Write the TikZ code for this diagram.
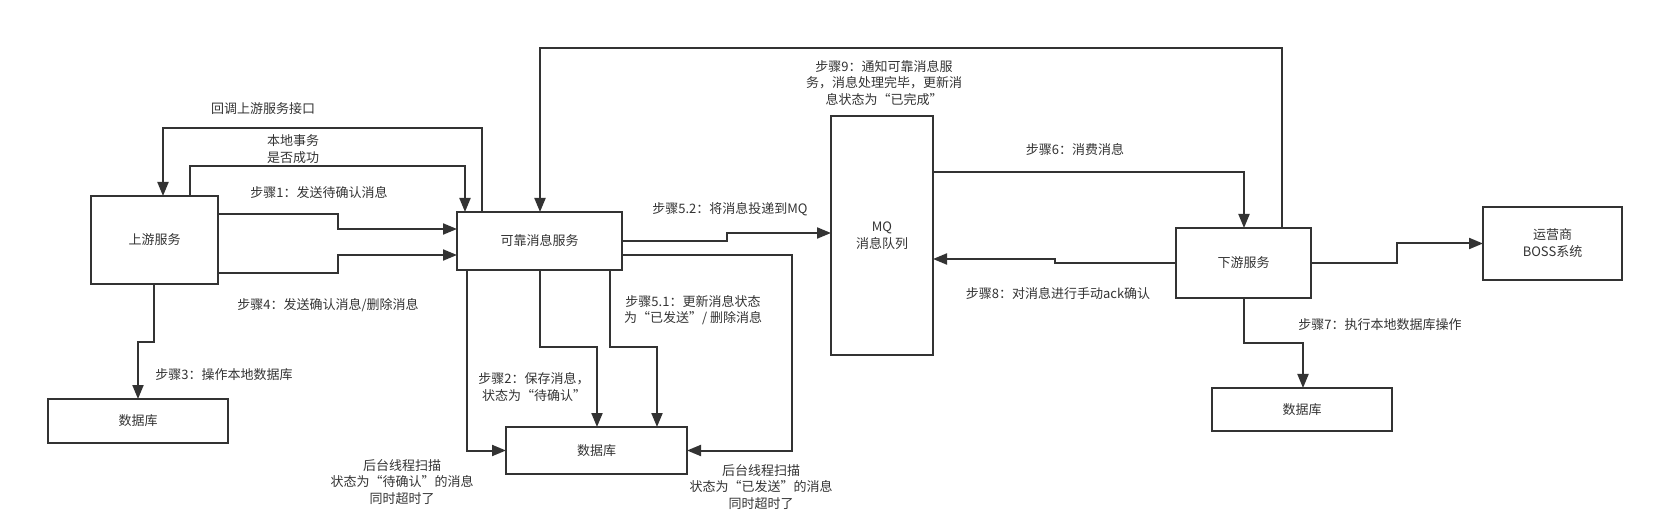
\documentclass[tikz,border=0pt]{standalone}
\usepackage{fontspec}
\setmainfont{Noto Sans CJK SC}
\usetikzlibrary{arrows.meta,calc}
\definecolor{lc}{HTML}{333333}
\begin{document}
\begin{tikzpicture}[x=1pt,y=-1pt,
  box/.style={draw=lc, line width=2pt, inner sep=0pt, outer sep=0pt, text=lc, align=center, font=\fontsize{13pt}{17pt}\selectfont},
  lbl/.style={text=lc, align=center, inner sep=0pt, font=\fontsize{13pt}{16.5pt}\selectfont},
  wire/.style={draw=lc, line width=2pt},
  arr/.style={draw=lc, line width=2pt, -{Triangle[length=14pt,width=11pt]}}]
\useasboundingbox (0,0) rectangle (1654,526);
% nodes
\node[box, minimum width=127pt, minimum height=88pt] (up) at (154.5,240) {上游服务};
\node[box, minimum width=165pt, minimum height=58pt] (rel) at (539.5,241) {可靠消息服务};
\node[box, minimum width=180pt, minimum height=44pt] (db1) at (138,421) {数据库};
\node[box, minimum width=181pt, minimum height=47pt] (db2) at (596.5,450.5) {数据库};
\node[box, minimum width=102pt, minimum height=239pt] (mq) at (882,235.5) {MQ\\消息队列};
\node[box, minimum width=135pt, minimum height=70pt] (down) at (1243.5,263) {下游服务};
\node[box, minimum width=139pt, minimum height=73pt] (boss) at (1552.5,243.5) {运营商\\BOSS系统};
\node[box, minimum width=180pt, minimum height=43pt] (db3) at (1302,409.5) {数据库};
% connectors
\draw[arr] ($(rel.north west)+(25,0)$) -- ++(0,-84) -| ($(up.north west)+(72,0)$);
\draw[arr] ($(up.north west)+(99,0)$) -- ++(0,-30) -| ($(rel.north west)+(8,0)$);
\draw[arr] ($(up.north east)+(0,18)$) -- ++(120,0) |- ($(rel.north west)+(0,17)$);
\draw[arr] ($(up.south east)+(0,-11)$) -- ++(120,0) |- ($(rel.north west)+(0,43)$);
\draw[arr] ($(up.south west)+(63,0)$) -- ++(0,58) -| (db1.north);
\draw[arr] ($(rel.south west)+(10,0)$) |- (db2.west);
\draw[arr] ($(rel.south west)+(83,0)$) -- ++(0,77) -| ($(db2.north west)+(91,0)$);
\draw[arr] ($(rel.south west)+(153,0)$) -- ++(0,77) -| ($(db2.north west)+(151,0)$);
\draw[arr] ($(rel.north east)+(0,43)$) -- ++(170,0) |- (db2.east);
\draw[arr] ($(rel.north east)+(0,29)$) -- ++(105,0) |- ($(mq.north west)+(0,117)$);
\draw[arr] ($(down.north west)+(106,0)$) -- ++(0,-180) -| ($(rel.north west)+(83,0)$);
\draw[arr] ($(mq.north east)+(0,56)$) -| ($(down.north west)+(68,0)$);
\draw[arr] ($(down.north west)+(0,35)$) -- ++(-121,0) |- ($(mq.north east)+(0,143)$);
\draw[arr] (down.east) -- ++(86,0) |- (boss.west);
\draw[arr] ($(down.south west)+(68,0)$) -- ++(0,45) -| ($(db3.north)+(1,0)$);
% labels
\node[lbl] (l1) at (263,109) {回调上游服务接口};
\node[lbl] (l2) at (293,149) {本地事务\\是否成功};
\node[lbl] (l3) at (319,193) {步骤1：发送待确认消息};
\node[lbl] (l4) at (328,305) {步骤4：发送确认消息/删除消息};
\node[lbl] (l5) at (224,375) {步骤3：操作本地数据库};
\node[lbl] (l6) at (534,387) {步骤2：保存消息，\\状态为“待确认”};
\node[lbl] (l7) at (693,310) {步骤5.1：更新消息状态\\为“已发送”/ 删除消息};
\node[lbl] (l8) at (730,209) {步骤5.2：将消息投递到MQ};
\node[lbl] (l9) at (402,482) {后台线程扫描\\状态为“待确认”的消息\\同时超时了};
\node[lbl] (l10) at (761,487) {后台线程扫描\\状态为“已发送”的消息\\同时超时了};
\node[lbl] (l11) at (884,83) {步骤9：通知可靠消息服\\务，消息处理完毕，更新消\\息状态为“已完成”};
\node[lbl] (l12) at (1075,149) {步骤6：消费消息};
\node[lbl] (l13) at (1058,294) {步骤8：对消息进行手动ack确认};
\node[lbl] (l14) at (1380,325) {步骤7：执行本地数据库操作};
\end{tikzpicture}
\end{document}
